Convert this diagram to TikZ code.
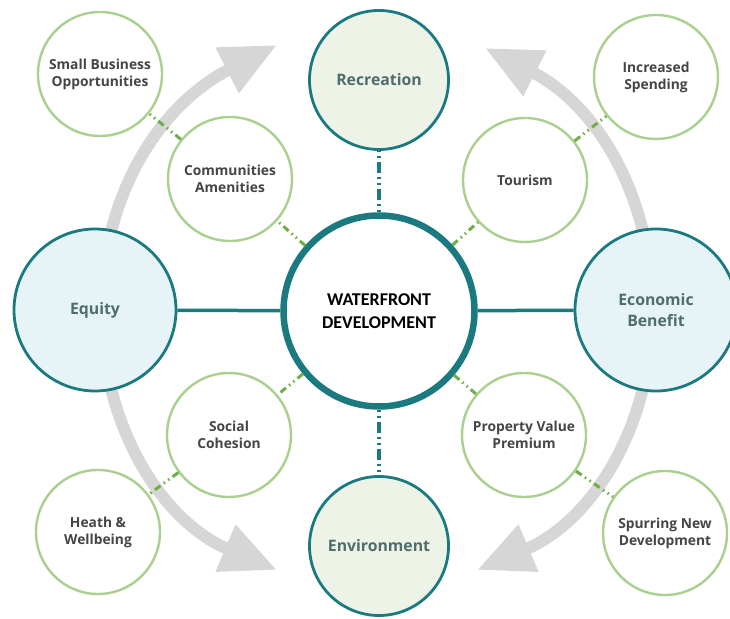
\documentclass[tikz,border=0pt]{standalone}
\usepackage{fontspec}
\setmainfont{Open Sans}
\newfontfamily\hubfont{Carlito}
\usetikzlibrary{arrows.meta}
\definecolor{tealc}{HTML}{1A7A80}
\definecolor{fillg}{HTML}{EEF3E8}
\definecolor{fillb}{HTML}{E6F4F7}
\definecolor{smallb}{HTML}{A9D08E}
\definecolor{conng}{HTML}{70AD47}
\definecolor{arrowg}{HTML}{D6D6D6}
\definecolor{lblc}{HTML}{4F6D6C}
\definecolor{smtxt}{HTML}{454545}
\begin{document}
\begin{tikzpicture}[x=1pt,y=1pt,
  bigc/.style={circle, draw=tealc, line width=2.8pt, minimum size=#1, inner sep=0pt, align=center,
    font=\fontsize{15.8}{21}\selectfont\bfseries, text=lblc},
  smallc/.style={circle, draw=smallb, line width=2.4pt, fill=white, minimum size=124pt, inner sep=0pt, align=center,
    font=\fontsize{13.8}{17}\selectfont\bfseries, text=smtxt},
  hubc/.style={circle, draw=tealc, line width=6.5pt, fill=white, minimum size=191pt, inner sep=0pt, align=center,
    font=\hubfont\fontsize{18}{23}\selectfont\bfseries, text=black},
  flow/.style={draw=arrowg, line width=12pt, -{Triangle[length=56pt,width=48pt]}},
  solidlink/.style={draw=tealc, line width=3.5pt},
  dashlink/.style={draw=tealc, line width=4.5pt, dash pattern=on 2pt off 4pt on 2pt off 4pt on 11pt off 4pt},
  greenlink/.style={draw=conng, line width=3pt, dash pattern=on 7pt off 4pt on 1.5pt off 4pt on 1.5pt off 4pt},
]
\useasboundingbox (0,0) rectangle (730,618);
% gray flow arrows (start points hidden under the side circles)
\coordinate (lts) at (104,350);
\coordinate (ltt) at (277,573);
\coordinate (lbs) at (104,266);
\coordinate (lbt) at (277,48);
\coordinate (rts) at (650,350);
\coordinate (rtt) at (485,570);
\coordinate (rbs) at (650,266);
\coordinate (rbt) at (477,48);
\draw[flow] (lts) to[out=82, in=207] (ltt);
\draw[flow] (lbs) to[out=-82, in=157] (lbt);
\draw[flow] (rts) to[out=98, in=-27] (rtt);
\draw[flow] (rbs) to[out=-98, in=23] (rbt);
% nodes
\node[hubc] (hub) at (379,307) {WATERFRONT\\DEVELOPMENT};
\node[bigc=139pt, fill=fillg] (rec) at (379,538) {Recreation};
\node[bigc=139pt, fill=fillg] (env) at (379,72) {Environment};
\node[bigc=162pt, fill=fillb] (equ) at (95,308) {Equity};
\node[bigc=162pt, fill=fillb] (eco) at (656,308) {Economic\\Benefit};
\node[smallc] (sbo) at (100,544) {Small Business\\Opportunities};
\node[smallc] (com) at (230,439) {Communities\\Amenities};
\node[smallc] (tou) at (525,438) {Tourism};
\node[smallc] (inc) at (656,541) {Increased\\Spending};
\node[smallc] (soc) at (229,183) {Social\\Cohesion};
\node[smallc] (hea) at (98,86) {Heath \&\\Wellbeing};
\node[smallc] (pro) at (524,183) {Property Value\\Premium};
\node[smallc] (spu) at (665,85) {Spurring New\\Development};
% links
\draw[solidlink] (hub) -- (equ);
\draw[solidlink] (hub) -- (eco);
\draw[dashlink] (hub) -- (rec);
\draw[dashlink] (hub) -- (env);
\draw[greenlink] (hub) -- (com);
\draw[greenlink] (com) -- (sbo);
\draw[greenlink] (hub) -- (tou);
\draw[greenlink] (tou) -- (inc);
\draw[greenlink] (hub) -- (soc);
\draw[greenlink] (soc) -- (hea);
\draw[greenlink] (hub) -- (pro);
\draw[greenlink] (pro) -- (spu);
\end{tikzpicture}
\end{document}
